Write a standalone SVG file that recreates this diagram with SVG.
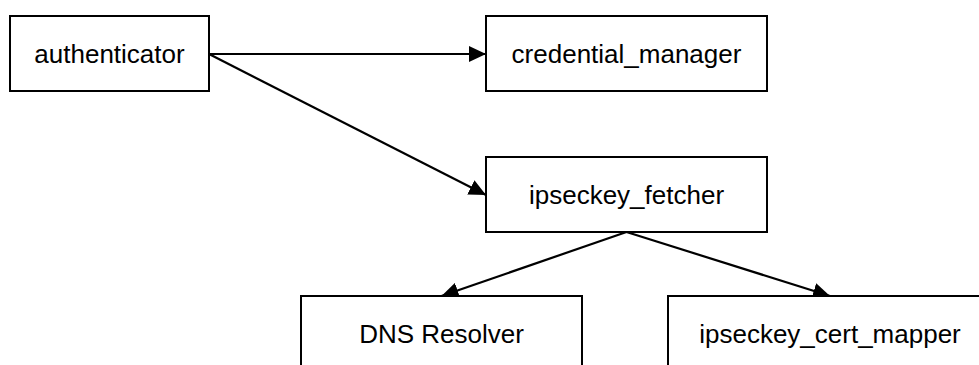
<svg xmlns="http://www.w3.org/2000/svg" width="979" height="365" viewBox="0 0 979 365">
<style>
.box{fill:#fff;stroke:#000;stroke-width:2}
.lbl{font-family:"Liberation Sans",Arial,sans-serif;font-size:26px;fill:#000;text-anchor:middle;dominant-baseline:central}
.edge{stroke:#000;stroke-width:2.2;fill:none;marker-end:url(#ah)}
</style>
<defs>
<marker id="ah" markerUnits="userSpaceOnUse" markerWidth="18" markerHeight="16" refX="17" refY="8" orient="auto" viewBox="0 0 18 16">
<path d="M0,0 L17,8 L0,16 z" fill="#000"/>
</marker>
</defs>
<rect width="979" height="365" fill="#fff"/>
<g id="connectors">
<line class="edge" x1="209" y1="54" x2="486" y2="54"/>
<line class="edge" x1="209" y1="54" x2="486" y2="195"/>
<line class="edge" x1="626.5" y1="232" x2="441.5" y2="296"/>
<line class="edge" x1="626.5" y1="232" x2="830" y2="296"/>
</g>
<g id="authenticator"><rect class="box" x="10" y="16" width="199" height="75"/><text class="lbl" x="109.5" y="53.5">authenticator</text></g>
<g id="credential_manager"><rect class="box" x="486" y="16" width="281" height="75"/><text class="lbl" x="626.5" y="53.5">credential_manager</text></g>
<g id="ipseckey_fetcher"><rect class="box" x="486" y="157" width="281" height="75"/><text class="lbl" x="626.5" y="194.5">ipseckey_fetcher</text></g>
<g id="dns_resolver"><rect class="box" x="301" y="296" width="281" height="75"/><text class="lbl" x="441.5" y="333.5">DNS Resolver</text></g>
<g id="ipseckey_cert_mapper"><rect class="box" x="668" y="296" width="324" height="75"/><text class="lbl" x="830" y="333.5">ipseckey_cert_mapper</text></g>
</svg>
